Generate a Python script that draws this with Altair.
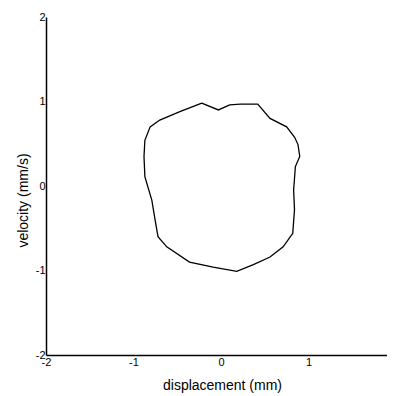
import altair as alt
import pandas as pd

# phase-plane trajectory (closed loop)
disp = [-0.22, -0.03, 0.10, 0.22, 0.42, 0.56, 0.75, 0.84, 0.88, 0.90, 0.85, 0.83,
        0.84, 0.82, 0.71, 0.56, 0.37, 0.18, -0.09, -0.36, -0.62, -0.72, -0.76,
        -0.79, -0.87, -0.88, -0.87, -0.81, -0.70, -0.47, -0.22]
vel = [0.98, 0.90, 0.96, 0.97, 0.97, 0.80, 0.70, 0.58, 0.49, 0.35, 0.23, -0.05,
       -0.28, -0.56, -0.72, -0.84, -0.93, -1.01, -0.96, -0.90, -0.72, -0.60, -0.36,
       -0.17, 0.11, 0.35, 0.54, 0.70, 0.78, 0.88, 0.98]
ticks = [-2, -1, 0, 1, 2]

df = pd.DataFrame({"x": disp, "y": vel, "i": list(range(len(disp)))})

FONT = "Liberation Sans"

chart = alt.Chart(df).mark_line(color="black", strokeWidth=1.3).encode(
    x=alt.X("x:Q", scale=alt.Scale(domain=[-2, 2], nice=False, zero=False, range=[0, 350]),
            axis=alt.Axis(values=ticks, title="displacement (mm)", grid=False,
                          ticks=False, domainColor="black", domainWidth=1.5,
                          labelExpr="'' + datum.value", labelFont=FONT,
                          labelFontSize=11, labelColor="black", labelPadding=1,
                          labelFlush=False,
                          titleFont=FONT, titleFontSize=14, titleFontWeight="normal",
                          titleColor="black", titleBaseline="middle", titleY=30,
                          titleX=176)),
    y=alt.Y("y:Q", scale=alt.Scale(domain=[-2, 2], nice=False, zero=False),
            axis=alt.Axis(values=ticks, title="velocity (mm/s)", grid=False,
                          ticks=False, domainColor="black", domainWidth=1.5,
                          labelExpr="'' + datum.value", labelFont=FONT,
                          labelFontSize=11, labelColor="black", labelPadding=1,
                          labelFlush=False,
                          titleFont=FONT, titleFontSize=14, titleFontWeight="normal",
                          titleColor="black", titleBaseline="middle", titleAlign="center",
                          titleX=-23, titleY=183)),
    order="i:Q",
).properties(
    width=341, height=338,
    autosize=alt.AutoSizeParams(type="none"),
    padding={"left": 38, "top": 9, "right": 0, "bottom": 41},
).configure(
    background="white",
    view=alt.ViewConfig(strokeWidth=0, stroke="transparent"),
)

chart.save("out.html", embed_options={"renderer": "svg", "actions": False})
